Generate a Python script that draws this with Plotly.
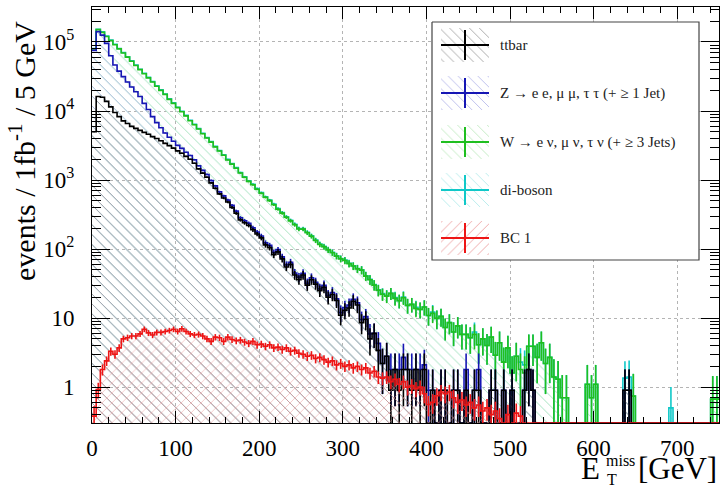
import numpy as np
import plotly.graph_objects as go

# ---------------- data (5 GeV bins, 0-750 GeV) ----------------
bin_edges = list(range(0, 755, 5))

ttbar = [
    5000, 16200, 15800, 13800, 11500, 9500, 8300, 7200, 6600, 6000,
    5600, 5250, 4900, 4600, 4250, 4000, 3700, 3400, 3150, 2900,
    2650, 2450, 2200, 2000, 1750, 1450, 1260, 1100, 910, 760,
    630, 550, 480, 400, 330, 265, 240, 220, 190, 165,
    145, 115, 105, 83, 91, 72, 55, 60, 42, 36,
    42, 30, 36, 31, 25, 28, 20, 22, 18, 11,
    13, 14, 17.5, 15.5, 8.6, 9.6, 5, 6, 3.4, 2.2,
    2.8, 0.9, 1.8, 0.9, 1.8, 1.8, 0.9, 1.8, 0.9, 1.8,
    0, 0.9, 0, 0.9, 0.9, 0, 0.9, 0.9, 0, 0.9,
    0, 0.9, 0.9, 0, 0, 0.9, 0.9, 0, 0.9, 0,
    0.9, 0, 0, 0.9, 1.8, 0.9, 0, 0, 0, 0,
    0, 0, 0, 0, 0, 0, 0, 0, 0, 0,
    0, 0, 0, 0, 0, 0, 0, 0.9, 0.9, 0,
    0, 0, 0, 0, 0, 0, 0, 0, 0, 0,
    0, 0, 0, 0, 0, 0, 0, 0, 0, 0,
]

zjets = [
    70700, 125000, 110000, 81700, 51700, 37000, 29600, 24300, 19700, 16300,
    13400, 11000, 8000, 5930, 4040, 2790, 2030, 1400, 1010, 750,
    530, 430, 325, 270, 214, 158, 121, 106, 76, 64,
    45, 40, 35, 29, 24, 19, 17, 16, 14, 12,
    10, 8, 8, 6, 7, 5, 4, 4.5, 3, 3,
    2.5, 2, 2.5, 2, 1.5, 1.8, 1.2, 1.5, 1, 1,
    1.2, 1.5, 1.2, 1.2, 0.9, 0.9, 0.9, 0, 0.9, 0,
    0, 0.9, 0, 0.9, 0.9, 0, 0.9, 0, 0.9, 0.3,
    0.9, 0, 0, 0, 0, 0, 0, 0, 0, 0.9,
    0, 0, 0.9, 0, 0, 0, 0, 0, 0, 0,
    0, 0, 0, 0, 0, 0, 0, 0, 0, 0,
    0, 0, 0, 0, 0, 0, 0, 0, 0, 0,
    0, 0, 0, 0, 0, 0, 0, 0, 0, 0,
    0, 0, 0, 0, 0, 0, 0, 0, 0, 0,
    0, 0, 0, 0, 0, 0, 0, 0, 0, 0,
]

wjets = [
    3700, 9800, 12200, 24500, 41800, 44700, 41500, 37700, 34000, 30200,
    26700, 23500, 21800, 19700, 18000, 16100, 14200, 12600, 10600, 9250,
    8000, 6890, 5990, 4970, 4350, 3890, 3300, 2860, 2560, 2200,
    1960, 1700, 1440, 1270, 1130, 980, 840, 720, 650, 560,
    490, 440, 390, 350, 280, 255, 230, 192, 180, 156,
    150, 140, 115, 100, 90, 78, 76, 65, 60, 60,
    54, 46, 38, 35, 40, 30, 30, 24, 21, 20,
    18, 21, 17.5, 16, 17, 13.5, 14, 12, 11.5, 12.4,
    10, 10.8, 9.9, 9.7, 6.4, 8.6, 5.4, 6.8, 5.8, 4,
    5.2, 4.9, 2.3, 5, 4, 4.4, 2, 4.4, 1.4, 3.7,
    0.7, 2.8, 1.8, 0.7, 2.1, 3.0, 2.7, 4.4, 2.2, 2.7,
    1.4, 1.3, 0.7, 0.7, 0, 0, 0, 0, 1.1, 0.7,
    1.1, 0, 0, 0, 0, 0, 0, 0, 0, 0.74,
    0, 0, 0, 0, 0, 0, 0, 0, 0, 0,
    0, 0, 0, 0, 0, 0, 0, 0, 0.67, 0.67,
]

diboson = [
    1200, 2000, 2000, 1800, 1600, 1400, 1250, 1100, 950, 830,
    720, 630, 550, 480, 420, 365, 320, 280, 240, 210,
    180, 160, 140, 120, 105, 92, 80, 70, 61, 53,
    46, 40, 35, 31, 27, 23, 20, 18, 16, 14,
    12, 10.5, 9.3, 8.1, 7.1, 6.2, 5.4, 4.8, 4.2, 3.6,
    3.2, 2.8, 2.4, 2.1, 1.8, 1.6, 1.4, 1.3, 1.1, 1.0,
    0.9, 0.8, 0.7, 0.6, 0.6, 0.5, 0.5, 0.5, 0.4, 0.4,
    0.4, 0, 0.5, 0, 0.5, 0, 0, 0.5, 0, 0,
    0, 0.5, 0, 0, 0, 0, 0, 0, 0, 0,
    0, 0.5, 0, 0, 0, 0, 0, 0, 0, 0,
    0, 0, 0.5, 0.5, 0, 0, 0, 0, 0, 0,
    0, 0, 0, 0, 0, 0, 0, 0, 0, 0,
    0, 0, 0, 0, 0, 0, 0, 0.45, 0.5, 0,
    0, 0, 0, 0, 0, 0, 0, 0, 0.5, 0,
    0, 0, 0, 0, 0, 0, 0, 0, 0, 0,
]

bc1 = [
    0.38, 0.92, 1.8, 2.4, 3.3, 3.0, 3.7, 5.0, 5.2, 5.5,
    5.5, 5.9, 6.9, 6.1, 5.7, 6.2, 6.2, 6.4, 6.6, 6.9,
    6.4, 7.0, 6.4, 5.9, 5.7, 5.8, 5.5, 5.0, 4.6, 5.3,
    5.2, 4.6, 5.3, 4.9, 4.7, 4.8, 4.5, 4.3, 4.6, 4.1,
    4.2, 3.9, 4.1, 3.7, 3.8, 3.5, 3.7, 3.3, 3.4, 3.1,
    3.0, 2.8, 2.9, 2.6, 2.7, 2.5, 2.3, 2.4, 2.1, 2.2,
    2.0, 2.1, 1.9, 2.0, 1.8, 1.9, 1.6, 1.7, 1.4, 1.35,
    1.4, 1.2, 1.3, 1.1, 1.2, 1.0, 1.05, 0.95, 1.0, 0.8,
    0.56, 0.6, 0.75, 0.85, 0.8, 0.85, 0.7, 0.6, 0.65, 0.55,
    0.6, 0.5, 0.55, 0.45, 0.5, 0.4, 0.45, 0.35, 0, 0.4,
    0, 0.42, 0.38, 0, 0, 0, 0, 0, 0, 0,
    0, 0, 0, 0, 0, 0, 0, 0, 0, 0,
    0, 0, 0, 0, 0, 0, 0, 0, 0, 0,
    0, 0, 0, 0, 0, 0, 0, 0, 0, 0,
    0, 0, 0, 0, 0, 0, 0, 0, 0, 0,
]

# per-event weights (used for the statistical error bars)
event_weight = {"ttbar": 0.9, "zjets": 0.9, "wjets": 0.9, "diboson": 0.5, "bc1": 0.06}

legend_labels = [
    "ttbar",
    "Z \u2192 e e, \u03bc \u03bc, \u03c4 \u03c4 (+ \u2265 1 Jet)",
    "W \u2192 e \u03bd, \u03bc \u03bd, \u03c4 \u03bd (+ \u2265 3 Jets)",
    "di-boson",
    "BC 1",
]

x_ticks = [0, 100, 200, 300, 400, 500, 600, 700]
y_ticks = [1, 10, 100, 1e3, 1e4, 1e5]
y_ticktext = ["1", "10", "10<sup>2</sup>", "10<sup>3</sup>", "10<sup>4</sup>", "10<sup>5</sup>"]

# ---------------- geometry / style ----------------
W_PX, H_PX = 721, 488
ML, MR, MT, MB = 92, 2, 7, 65
X0, X1 = ML, W_PX - MR
Y0, Y1 = MT, H_PX - MB
YLOG = [-0.52, 5.507]
FLOOR = 10 ** YLOG[0]
FONT = "Liberation Serif, Times New Roman, serif"

styles = {
    "ttbar":   dict(line="#000000", hatch="#9e9e9e", shape="\\"),
    "zjets":   dict(line="#1616b4", hatch="#b4b6ea", shape="\\"),
    "wjets":   dict(line="#1fbf1f", hatch="#bce8bc", shape="\\"),
    "diboson": dict(line="#10c8c8", hatch="#b0eaea", shape="\\"),
    "bc1":     dict(line="#ee1515", hatch="#ec9c9c", shape="x"),
}

edges = np.array(bin_edges, dtype=float)
centers = 0.5 * (edges[:-1] + edges[1:])
comp = {k: np.array(v, dtype=float) for k, v in
        [("ttbar", ttbar), ("zjets", zjets), ("wjets", wjets), ("diboson", diboson), ("bc1", bc1)]}
order = ["ttbar", "zjets", "wjets", "diboson"]

# cumulative stack and its variance
cum_vals, cum_var = {}, {}
run = np.zeros(len(centers)); var = np.zeros(len(centers))
for k in order:
    run = run + comp[k]
    var = var + event_weight[k] * comp[k]
    cum_vals[k] = run.copy()
    cum_var[k] = var.copy()
cum_vals["bc1"] = comp["bc1"]
cum_var["bc1"] = event_weight["bc1"] * comp["bc1"]

fig = go.Figure()


def add_hist(key):
    st = styles[key]
    v = cum_vals[key]
    vplot = np.where(v > 0, v, FLOOR)
    ys = np.append(vplot, vplot[-1])
    fig.add_trace(go.Scatter(x=edges, y=np.full(len(edges), FLOOR * 0.5), mode="lines",
                             line=dict(width=0, color="rgba(0,0,0,0)"), hoverinfo="skip",
                             showlegend=False))
    fig.add_trace(go.Scatter(x=edges, y=ys, mode="lines", line_shape="hv",
                             line=dict(color=st["line"], width=1.6),
                             fill="tonexty", fillcolor="rgba(0,0,0,0)",
                             fillpattern=dict(shape=st["shape"], fgcolor=st["hatch"],
                                              bgcolor="rgba(0,0,0,0)", size=7,
                                              solidity=0.14 if key == "bc1" else 0.11,
                                              fillmode="replace"),
                             showlegend=False, hoverinfo="skip"))
    err = np.sqrt(cum_var[key])
    ex, ey = [], []
    for c, val, e in zip(centers, v, err):
        if val <= 0:
            continue
        ex += [c, c, None]
        ey += [max(val - e, FLOOR * 0.5), val + e, None]
    fig.add_trace(go.Scatter(x=ex, y=ey, mode="lines", line=dict(color=st["line"], width=1.6),
                             showlegend=False, hoverinfo="skip"))


for key in ["diboson", "wjets", "zjets", "ttbar", "bc1"]:
    add_hist(key)

# ---------------- legend (drawn in pixel coordinates on an overlay axis) ----------------
LX0, LX1, LY0, LY1 = 432, 699, 22, 260
fig.add_trace(go.Scatter(x=[LX0, LX1, LX1, LX0, LX0], y=[LY0, LY0, LY1, LY1, LY0],
                         xaxis="x2", yaxis="y2", mode="lines", fill="toself",
                         fillcolor="white", line=dict(color="#444444", width=1.2),
                         showlegend=False, hoverinfo="skip"))
entry_y = [45, 93, 142, 190, 238]
entry_keys = ["ttbar", "zjets", "wjets", "diboson", "bc1"]
SX0, SX1, SH = 441, 489, 17
for key, yy, lab in zip(entry_keys, entry_y, legend_labels):
    st = styles[key]
    shp = "/" if key == "bc1" else "\\"
    fig.add_trace(go.Scatter(x=[SX0, SX1, SX1, SX0, SX0], y=[yy - SH, yy - SH, yy + SH, yy + SH, yy - SH],
                             xaxis="x2", yaxis="y2", mode="lines", fill="toself",
                             fillcolor="rgba(0,0,0,0)", line=dict(width=0, color="rgba(0,0,0,0)"),
                             fillpattern=dict(shape=shp, fgcolor=st["hatch"], bgcolor="rgba(0,0,0,0)",
                                              size=7, solidity=0.12, fillmode="replace"),
                             showlegend=False, hoverinfo="skip"))
    xm = 0.5 * (SX0 + SX1)
    fig.add_trace(go.Scatter(x=[SX0, SX1, None, xm, xm], y=[yy, yy, None, yy - 15, yy + 15],
                             xaxis="x2", yaxis="y2", mode="lines",
                             line=dict(color=st["line"], width=2),
                             showlegend=False, hoverinfo="skip"))
    fig.add_annotation(x=498, y=yy, xref="x2", yref="y2", text=lab, showarrow=False,
                       xanchor="left", yanchor="middle",
                       font=dict(family=FONT, size=15, color="#222222"))


def px(xp):
    return (xp - X0) / (X1 - X0)


def py(yp):
    return (Y1 - yp) / (Y1 - Y0)


# axis titles
fig.add_annotation(x=px(22), y=py(151), xref="paper", yref="paper", textangle=-90,
                   text="events / 1fb<sup>-1</sup> / 5 GeV", showarrow=False,
                   xanchor="center", yanchor="middle", font=dict(family=FONT, size=30, color="black"))
fig.add_annotation(x=px(579), y=py(468), xref="paper", yref="paper", text="E", showarrow=False,
                   xanchor="left", yanchor="middle", font=dict(family=FONT, size=31, color="black"))
fig.add_annotation(x=px(604), y=py(460), xref="paper", yref="paper", text="miss", showarrow=False,
                   xanchor="left", yanchor="middle", font=dict(family=FONT, size=16, color="black"))
fig.add_annotation(x=px(605), y=py(479), xref="paper", yref="paper", text="T", showarrow=False,
                   xanchor="left", yanchor="middle", font=dict(family=FONT, size=16, color="black"))
fig.add_annotation(x=px(719), y=py(468), xref="paper", yref="paper", text="[GeV]", showarrow=False,
                   xanchor="right", yanchor="middle", font=dict(family=FONT, size=31, color="black"))

minor_y = [m * 10 ** d for d in range(-1, 6) for m in range(2, 10)]
minor_y = [v for v in minor_y if FLOOR < v < 10 ** YLOG[1]]

fig.update_layout(
    template=None,
    width=W_PX, height=H_PX,
    margin=dict(l=ML, r=MR, t=MT, b=MB, pad=0, autoexpand=False),
    paper_bgcolor="white", plot_bgcolor="white",
    showlegend=False,
    font=dict(family=FONT, color="black"),
    xaxis=dict(range=[0, 750], tickvals=x_ticks, ticks="inside", ticklen=12, tickwidth=1,
               tickcolor="black", showline=True, linecolor="black", linewidth=1, mirror="allticks",
               showgrid=True, gridcolor="#b4b4b4", griddash="dot", gridwidth=1, zeroline=False,
               automargin=False,
               tickfont=dict(family=FONT, size=23, color="black"), ticklabelstandoff=4,
               minor=dict(dtick=20, ticks="inside", ticklen=6, tickcolor="black", showgrid=False)),
    yaxis=dict(type="log", range=YLOG, tickvals=y_ticks, ticktext=y_ticktext, ticks="inside",
               ticklen=18, tickwidth=1, tickcolor="black", showline=True, linecolor="black",
               linewidth=1, mirror="allticks", showgrid=True, gridcolor="#b4b4b4", griddash="dot",
               gridwidth=1, zeroline=False, automargin=False,
               tickfont=dict(family=FONT, size=23, color="black"),
               ticklabelstandoff=12,
               minor=dict(tickvals=minor_y, ticks="inside", ticklen=9, tickcolor="black", showgrid=False)),
    xaxis2=dict(overlaying="x", range=[X0, X1], visible=False, anchor="y2", fixedrange=True),
    yaxis2=dict(overlaying="y", range=[Y1, Y0], visible=False, anchor="x2", fixedrange=True),
)

fig.write_html("out.html", config={"displayModeBar": False},
               post_script="document.body.style.margin='0';document.body.style.overflow='hidden';")
